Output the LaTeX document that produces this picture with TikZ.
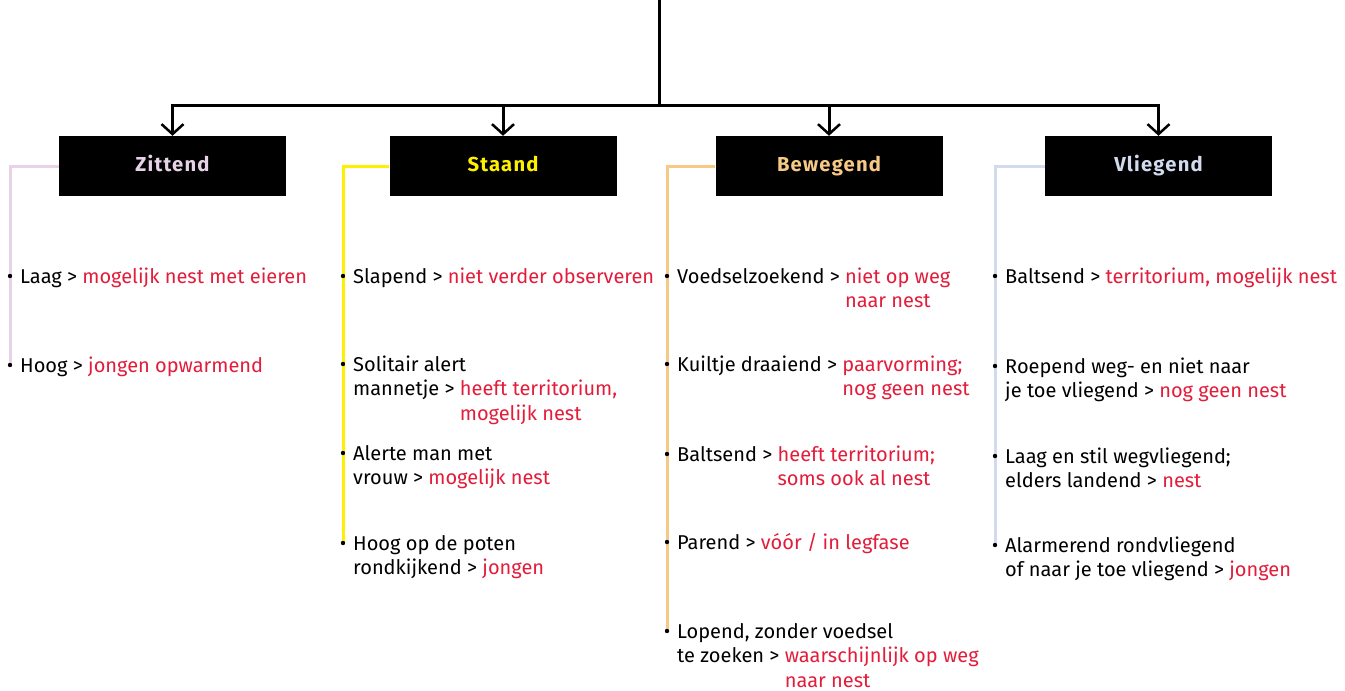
\documentclass[tikz,border=0pt]{standalone}
\usepackage{fontspec}
\setmainfont{Fira Sans}
\newfontfamily\kopfont[LetterSpace=6]{Fira Sans}
\usetikzlibrary{arrows.meta}
\definecolor{rood}{RGB}{226,28,58}
\definecolor{zitkleur}{RGB}{232,210,232}
\definecolor{staakleur}{RGB}{255,240,0}
\definecolor{beweegkleur}{RGB}{247,201,135}
\definecolor{vliegkleur}{RGB}{210,218,238}
\newcommand\regels[1]{\begin{tabular}[t]{@{}l@{}}#1\end{tabular}}
\newcommand\gevolg[1]{\textcolor{rood}{\begin{tabular}[t]{@{}l@{}}#1\end{tabular}}}
\begin{document}
\begin{tikzpicture}[x=1pt,y=-1pt,
	kop/.style={fill=black, minimum width=227pt, minimum height=60pt, inner sep=0pt, text height=15pt, text depth=4pt, font=\kopfont\bfseries\fontsize{20.2}{22}\selectfont},
	item/.style={anchor=base west, inner sep=0pt, font=\fontsize{20}{24.8}\selectfont},
	lijn/.style={line width=3pt},
	pijl/.style={-{Straight Barb[length=10pt,width=22pt,line width=2.5pt]}},
	haak/.style={line width=3pt}]
	\useasboundingbox (0,0) rectangle (1345,691);
	\node[kop, text=zitkleur] (zittend) at (172.5,166) {Zittend};
	\node[kop, text=staakleur] (staand) at (503,166) {Staand};
	\node[kop, text=beweegkleur] (bewegend) at (829,166) {Bewegend};
	\node[kop, text=vliegkleur] (vliegend) at (1158.5,166) {Vliegend};
	\coordinate (top) at (659,0);
	\coordinate (split) at (659,105);
	\draw[lijn] (top) -- (split);
	\foreach \b in {zittend,staand,bewegend,vliegend}
		\draw[lijn,pijl] (split) -| (\b.north);
	% Zittend
	\node[item] (z1) at (20,283) {\regels{Laag > \gevolg{mogelijk nest met eieren}}};
	\node[item] (z2) at (20,372) {\regels{Hoog > \gevolg{jongen opwarmend}}};
	% Staand
	\node[item] (s1) at (353,283) {\regels{Slapend > \gevolg{niet verder observeren}}};
	\node[item] (s2) at (353,371) {\regels{Solitair alert\\mannetje > \gevolg{heeft territorium,\\mogelijk nest}}};
	\node[item] (s3) at (353,460) {\regels{Alerte man met\\vrouw > \gevolg{mogelijk nest}}};
	\node[item] (s4) at (353,550) {\regels{Hoog op de poten\\rondkijkend > \gevolg{jongen}}};
	% Bewegend
	\node[item] (b1) at (677,283) {\regels{Voedselzoekend > \gevolg{niet op weg\\naar nest}}};
	\node[item] (b2) at (677,371) {\regels{Kuiltje draaiend > \gevolg{paarvorming;\\nog geen nest}}};
	\node[item] (b3) at (677,461) {\regels{Baltsend > \gevolg{heeft territorium;\\soms ook al nest}}};
	\node[item] (b4) at (677,549) {\regels{Parend > \gevolg{vóór / in legfase}}};
	\node[item] (b5) at (677,638) {\regels{Lopend, zonder voedsel\\te zoeken > \gevolg{waarschijnlijk op weg\\naar nest}}};
	% Vliegend
	\node[item] (v1) at (1005,283) {\regels{Baltsend > \gevolg{territorium, mogelijk nest}}};
	\node[item] (v2) at (1005,373) {\regels{Roepend weg- en niet naar\\je toe vliegend > \gevolg{nog geen nest}}};
	\node[item] (v3) at (1005,463) {\regels{Laag en stil wegvliegend;\\elders landend > \gevolg{nest}}};
	\node[item] (v4) at (1005,552) {\regels{Alarmerend rondvliegend\\of naar je toe vliegend > \gevolg{jongen}}};
	\draw[haak, zitkleur] (zittend.west) -| ([xshift=-10pt,yshift=7pt]z2.base west);
	\draw[haak, staakleur] (staand.west) -| ([xshift=-10pt,yshift=7pt]s4.base west);
	\draw[haak, beweegkleur] (bewegend.west) -| ([xshift=-10pt,yshift=7pt]b5.base west);
	\draw[haak, vliegkleur] (vliegend.west) -| ([xshift=-10pt,yshift=7pt]v4.base west);
	\foreach \n in {z1,z2,s1,s2,s3,s4,b1,b2,b3,b4,b5,v1,v2,v3,v4}
		\fill ([xshift=-10pt,yshift=7pt]\n.base west) circle (2.2pt);
\end{tikzpicture}
\end{document}
